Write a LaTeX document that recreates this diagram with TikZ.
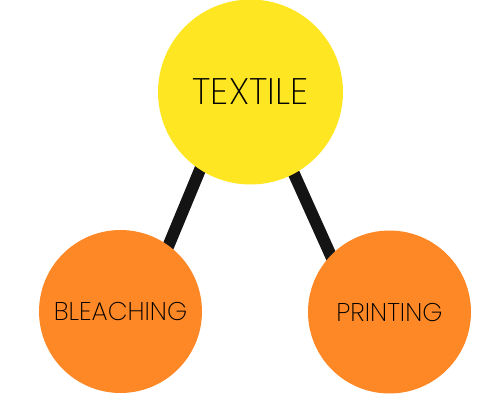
\documentclass[tikz,border=0pt]{standalone}
\usepackage{fontspec}
\newfontfamily\lightfont{Poppins ExtraLight}
\usetikzlibrary{positioning, backgrounds}
\definecolor{yellow}{RGB}{255, 230, 35}
\definecolor{orange}{RGB}{255, 136, 38}
\definecolor{dark}{RGB}{20, 20, 20}

\begin{document}
\begin{tikzpicture}[x=0.02cm, y=-0.02cm,
    bubble/.style={circle, inner sep=0pt, text=black, font=\lightfont}]
    \useasboundingbox (0,0) rectangle (500,400);

    % Hình tròn vàng "TEXTILE" ở trên
    \node[bubble, fill=yellow, minimum size=3.7cm, font=\lightfont\fontsize{21}{25}\selectfont] (textile) at (250.5,92) {TEXTILE};

    % Hai hình tròn cam ở dưới
    \node[bubble, fill=orange, minimum size=3.26cm, font=\lightfont\fontsize{14.6}{17}\selectfont] (bleaching) at (120.5,311.5) {BLEACHING};
    \node[bubble, fill=orange, minimum size=3.26cm, font=\lightfont\fontsize{14.6}{17}\selectfont] (printing) at (389.5,312) {PRINTING};

    % Đường nối dày phía sau các hình tròn
    \begin{scope}[on background layer]
    \draw[dark, line width=6.8pt, shorten <=-6pt, shorten >=-6pt] (textile.237) -- (bleaching.54);
    \draw[dark, line width=6.8pt, shorten <=-6pt, shorten >=-6pt] (textile.298.6) -- (printing.136);
    \end{scope}
\end{tikzpicture}
\end{document}
